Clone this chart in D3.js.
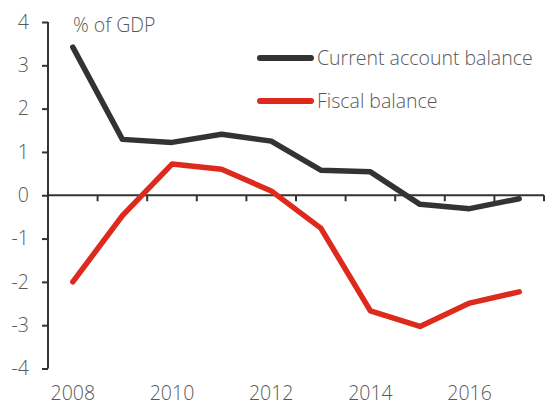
<!DOCTYPE html>
<html>
<head>
<meta charset="utf-8">
<script src="https://cdn.jsdelivr.net/npm/d3@7"></script>
<style>
  html, body { margin: 0; padding: 0; background: #fff; }
  svg text { font-family: "Open Sans", "Noto Sans", sans-serif; font-weight: 300; fill: #595959; }
</style>
</head>
<body>
<svg id="chart" width="546" height="405"></svg>
<script>
// Years on the horizontal axis
const years = [2008, 2009, 2010, 2011, 2012, 2013, 2014, 2015, 2016, 2017];
// Balances, % of GDP
const currentAccount = [3.42, 1.29, 1.22, 1.41, 1.25, 0.58, 0.54, -0.21, -0.31, -0.08];
const fiscalBalance = [-2.0, -0.47, 0.72, 0.60, 0.10, -0.76, -2.67, -3.03, -2.49, -2.23];
// Axis labels
const yTicks = [4, 3, 2, 1, 0, -1, -2, -3, -4];
const xLabelYears = [2008, 2010, 2012, 2014, 2016];
const seriesNames = ["Current account balance", "Fiscal balance"];
const unitLabel = "% of GDP";

const colors = ["#333333", "#dd2a1d"];
const series = [currentAccount, fiscalBalance];
const fontSize = 19.5;

const svg = d3.select("#chart");
const plotLeft = 48, plotRight = 544, plotTop = 22, plotBottom = 368.5;

const x = d3.scaleBand().domain(years).range([plotLeft, plotRight]).padding(0);
const y = d3.scaleLinear().domain([-4, 4]).range([plotBottom, plotTop]);
const cx = d => x(d) + x.bandwidth() / 2;

// Vertical axis with outward ticks; labels use a plain hyphen for negatives
const yAxis = svg.append("g")
  .attr("transform", `translate(${plotLeft},0)`)
  .call(d3.axisLeft(y).tickValues(yTicks).tickSize(6).tickPadding(13).tickFormat(d => String(d)));
yAxis.select(".domain").attr("stroke", "#333").attr("stroke-width", 2).attr("d", `M0,${plotTop}V${plotBottom}`);
yAxis.selectAll(".tick line").attr("stroke", "#333").attr("stroke-width", 2);
yAxis.selectAll(".tick text")
  .attr("font-size", fontSize)
  .style("font-family", "'Open Sans', 'Noto Sans', sans-serif")
  .style("font-weight", 300)
  .attr("fill", "#595959");

// Zero line with ticks at year boundaries
const boundaries = years.map(d => x(d)).concat([plotRight]);
svg.append("line")
  .attr("x1", plotLeft).attr("x2", plotRight)
  .attr("y1", y(0)).attr("y2", y(0))
  .attr("stroke", "#333").attr("stroke-width", 2);
svg.append("g").selectAll("line").data(boundaries.slice(1)).join("line")
  .attr("x1", d => d).attr("x2", d => d)
  .attr("y1", y(0)).attr("y2", y(0) + 6)
  .attr("stroke", "#333").attr("stroke-width", 2);

// Year labels under the plot
svg.append("g").selectAll("text").data(xLabelYears).join("text")
  .attr("x", d => cx(d))
  .attr("y", 400)
  .attr("text-anchor", "middle")
  .attr("font-size", fontSize)
  .text(d => d);

// Unit label
svg.append("text").attr("x", 73).attr("y", 32).attr("font-size", fontSize).text(unitLabel);

// Series lines
const line = d3.line().x((d, i) => cx(years[i])).y(d => y(d));
series.forEach((s, k) => {
  svg.append("path")
    .datum(s)
    .attr("fill", "none")
    .attr("stroke", colors[k])
    .attr("stroke-width", 5.5)
    .attr("stroke-linejoin", "round")
    .attr("stroke-linecap", "round")
    .attr("d", line);
});

// Legend
const legendY = [58, 101];
seriesNames.forEach((name, k) => {
  svg.append("line")
    .attr("x1", 260).attr("x2", 311)
    .attr("y1", legendY[k]).attr("y2", legendY[k])
    .attr("stroke", colors[k]).attr("stroke-width", 6).attr("stroke-linecap", "round");
  svg.append("text")
    .attr("x", 317).attr("y", legendY[k] + 7)
    .attr("font-size", fontSize)
    .text(name);
});
</script>
</body>
</html>
